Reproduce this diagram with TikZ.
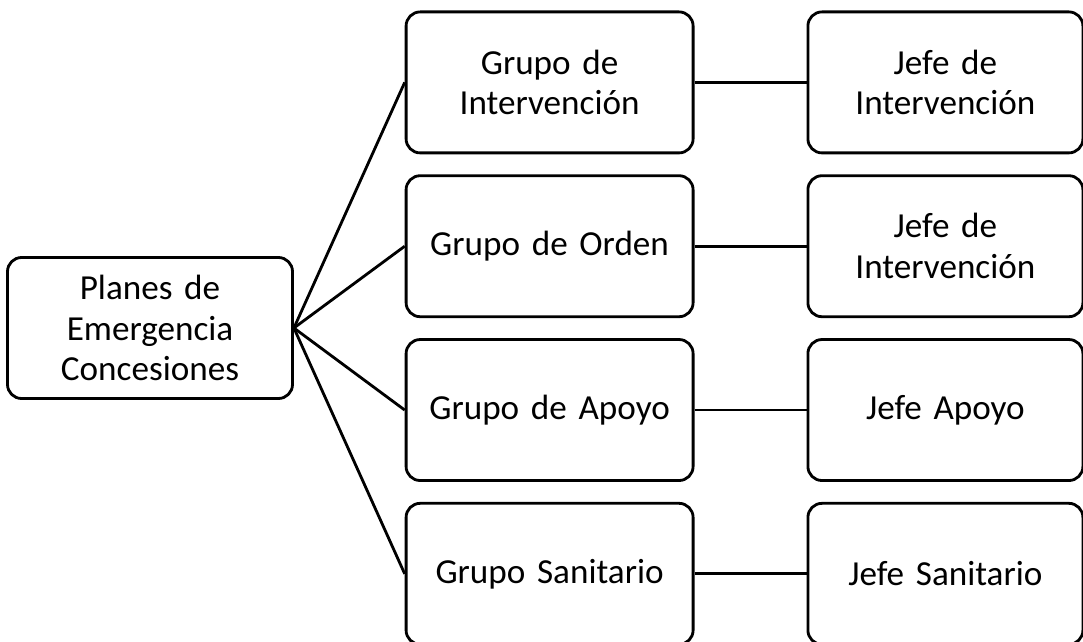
\documentclass[tikz,border=0pt]{standalone}
\usepackage{fontspec}
\setmainfont{Carlito}
\usepackage{tikz}
\usetikzlibrary{positioning}
\tikzset{
  planbox/.style={draw, rounded corners=10pt, align=center,
                  line width=2pt, text width=#1, inner sep=0pt,
                  minimum height=3.525cm,
                  font=\fontsize{25}{29}\selectfont},
  planbox/.default=6.9cm,
  rootbox/.style ={planbox=6.9cm, minimum width=7.125cm},
  grupobox/.style={planbox=6.9cm, minimum width=7.175cm},
  jefebox/.style ={planbox=6.6cm, minimum width=6.875cm},
  conn/.style    ={line width=2pt},
}

\begin{document}
\begin{tikzpicture}[node distance=0.5cm]
  \useasboundingbox (0,0) rectangle (27.075,-16.05);
  \node[rootbox] (plan) at (3.75,-8.2) {Planes de\\Emergencia\\Concesiones};
  \node[grupobox] (gint) at (13.74,-2.06) {Grupo de\\Intervención};
  \node[grupobox, below=of gint] (gord) {Grupo de Orden};
  \node[grupobox, below=of gord] (gapo) {Grupo de Apoyo};
  \node[grupobox, below=of gapo] (gsan) {Grupo Sanitario};
  \node[jefebox, right=2.8cm of gint] (jint) {Jefe de\\Intervención};
  \node[jefebox, right=2.8cm of gord] (jord) {Jefe de\\Intervención};
  \node[jefebox, right=2.8cm of gapo] (japo) {Jefe Apoyo};
  \node[jefebox, right=2.8cm of gsan] (jsan) {Jefe Sanitario};
  \foreach \g/\j in {gint/jint, gord/jord, gapo/japo, gsan/jsan} {
    \draw[conn] (plan.east) -- (\g.west);
    \draw[conn] (\g.east) -- (\j.west);
  }
\end{tikzpicture}
\end{document}
